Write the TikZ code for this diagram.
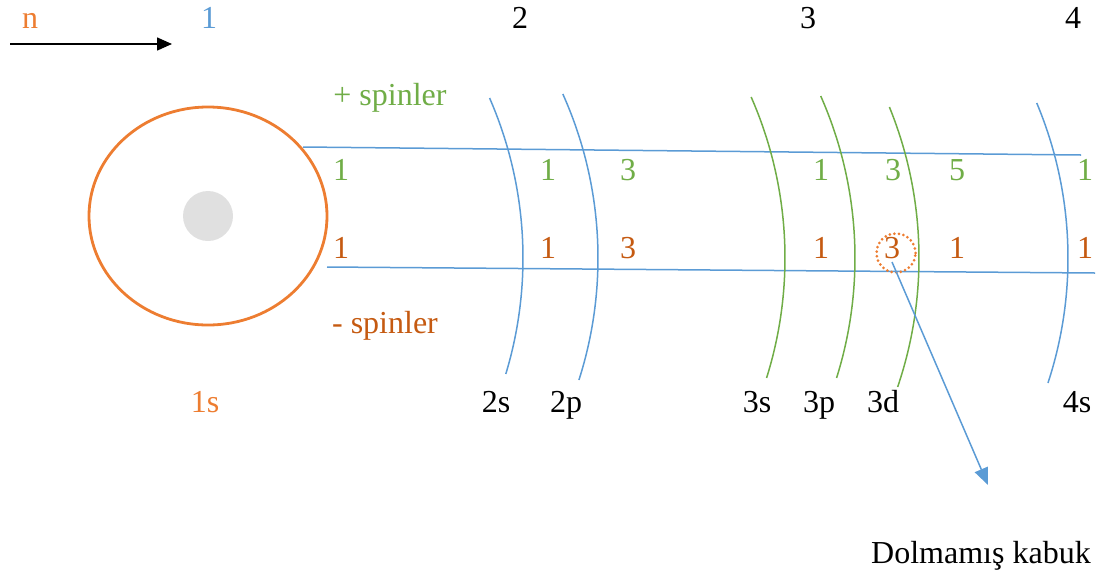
\documentclass[tikz,border=0pt]{standalone}
\usepackage{fontspec}
\setmainfont{Liberation Serif}
\usetikzlibrary{arrows.meta}
\definecolor{cgreen}{HTML}{70AD47}
\definecolor{corange}{HTML}{ED7D31}
\definecolor{cbrown}{HTML}{C55A11}
\definecolor{cblue}{HTML}{5B9BD5}
\definecolor{cgray}{HTML}{E0E0E0}
\tikzset{
  lbl/.style={anchor=base, inner sep=0pt, font=\fontsize{32}{36}\selectfont},
  plus/.style={lbl, text=cgreen},
  minus/.style={lbl, text=cbrown},
  shellline/.style={draw=cblue, line width=1.5pt},
  shellarc/.style={line width=1.5pt},
}
% \myshellarc{color}{xm}{ytop}{ybot}
\newcommand{\myshellarc}[4]{%
  \pgfmathsetmacro{\aA}{asin((258-#3)/400)}%
  \pgfmathsetmacro{\aB}{-asin((#4-258)/400)}%
  \draw[shellarc, draw=#1] ({#2-400},-258) ++(\aA:400) arc[start angle=\aA, end angle=\aB, radius=400];%
}
\begin{document}
\begin{tikzpicture}[x=1pt,y=1pt]
\useasboundingbox (0,0) rectangle (1105,-579);
% top row
\node[lbl, text=corange] (n) at (30,-28) {n};
\node[lbl, text=cblue] (t1) at (209,-28) {1};
\node[lbl] (t2) at (520,-28) {2};
\node[lbl] (t3) at (808,-28) {3};
\node[lbl] (t4) at (1073,-28) {4};
\coordinate (na) at (10,-44);
\coordinate (nb) at (172,-44);
\draw[line width=1.5pt, -{Triangle[length=15pt,width=13pt]}] (na) -- (nb);
% nucleus / 1s
\draw[corange, line width=2.8pt] (208,-216) ellipse [x radius=119, y radius=109];
\fill[cgray] (208,-216) circle (25);
% horizontal lines
\coordinate (l1a) at (303,-147);
\coordinate (l1b) at (1081,-155);
\coordinate (l2a) at (327,-267);
\coordinate (l2b) at (1095,-273);
\draw[shellline] (l1a) -- (l1b);
\draw[shellline] (l2a) -- (l2b);
% arcs
\myshellarc{cblue}{523}{98}{374}
\myshellarc{cblue}{598}{94}{380}
\myshellarc{cgreen}{785}{97}{378}
\myshellarc{cgreen}{855}{96}{378}
\myshellarc{cgreen}{919}{107}{387}
\myshellarc{cblue}{1068}{103}{383}
% spin labels
\node[plus] (ps) at (390,-105) {+ spinler};
\node[minus] (ms) at (385,-333) {- spinler};
% plus row
\node[plus] (p1) at (341,-180) {1};
\node[plus] (p2) at (548,-180) {1};
\node[plus] (p3) at (628,-180) {3};
\node[plus] (p4) at (821,-180) {1};
\node[plus] (p5) at (893,-180) {3};
\node[plus] (p6) at (957,-180) {5};
\node[plus] (p7) at (1085,-180) {1};
% minus row
\node[minus] (m1) at (341,-258) {1};
\node[minus] (m2) at (548,-258) {1};
\node[minus] (m3) at (628,-258) {3};
\node[minus] (m4) at (821,-258) {1};
\node[minus] (m5) at (892,-258) {3};
\node[minus] (m6) at (957,-258) {1};
\node[minus] (m7) at (1085,-258) {1};
% dotted circle
\node[circle, draw=corange, line width=3pt, dash pattern=on 0pt off 4.6pt, line cap=round, minimum size=39pt, inner sep=0pt] (dc) at (896,-253) {};
% arrow to unfilled shell
\coordinate (as) at (892,-262);
\coordinate (at) at (988,-485);
\draw[cblue, line width=1.5pt, -{Triangle[length=17pt,width=14pt]}] (as) -- (at);
% orbital labels
\node[lbl, text=corange] (o1s) at (205,-412) {1s};
\node[lbl] (o2s) at (496,-412) {2s};
\node[lbl] (o2p) at (566,-412) {2p};
\node[lbl] (o3s) at (757,-412) {3s};
\node[lbl] (o3p) at (819,-412) {3p};
\node[lbl] (o3d) at (883,-412) {3d};
\node[lbl] (o4s) at (1077,-412) {4s};
\node[lbl] (dk) at (981,-563) {Dolmamış kabuk};
\end{tikzpicture}
\end{document}
